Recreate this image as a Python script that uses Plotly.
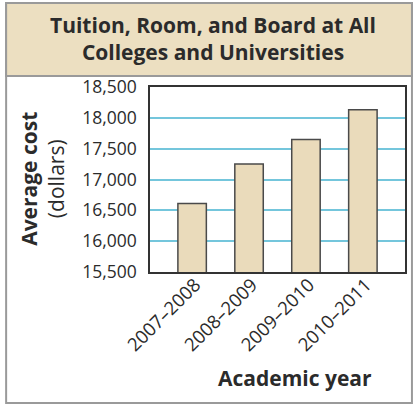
import plotly.graph_objects as go

years = ["2007–2008", "2008–2009", "2009–2010", "2010–2011"]
avg_cost = [16610, 17250, 17650, 18130]
y_ticks = [15500, 16000, 16500, 17000, 17500, 18000, 18500]
y_tick_labels = ["15,500", "16,000", "16,500", "17,000", "17,500", "18,000", "18,500"]

W, H = 419, 406
L, R, T, B = 150, 12, 87, 134
pw, ph = W - L - R, H - T - B

def px(x):
    return (x - L) / pw

def py(y):
    return (H - B - y) / ph

FONT = "Open Sans"
TXT = "#2b2b2b"

fig = go.Figure()
fig.add_trace(go.Bar(
    x=list(range(len(years))), y=avg_cost,
    width=0.5,
    marker=dict(color="#eadbbb", line=dict(color="#4a4a4a", width=1.5)),
    hoverinfo="skip",
))

fig.update_layout(
    width=W, height=H,
    margin=dict(l=L, r=R, t=T, b=B),
    paper_bgcolor="white", plot_bgcolor="white",
    showlegend=False,
    font=dict(family=FONT, color=TXT),
    xaxis=dict(
        range=[-0.74, 3.74],
        tickmode="array", tickvals=list(range(len(years))), ticktext=years,
        tickangle=-45, tickfont=dict(size=18.5, color=TXT),
        showgrid=False, zeroline=False,
        showline=True, linecolor="#333333", linewidth=1.5, mirror=True,
        ticks="", ticklabelshift=3, ticklabelstandoff=-7,
    ),
    yaxis=dict(
        range=[15500, 18500],
        tickmode="array", tickvals=y_ticks, ticktext=y_tick_labels,
        tickfont=dict(size=17.5, color=TXT),
        showgrid=True, gridcolor="#74c6dc", gridwidth=2,
        zeroline=False,
        showline=True, linecolor="#333333", linewidth=1.5, mirror=True,
        ticks="", ticklabelstandoff=8,
    ),
    shapes=[
        dict(type="rect", xref="paper", yref="paper",
             x0=px(5), x1=px(414), y0=py(403), y1=py(3),
             line=dict(color="#9a9a9a", width=2), fillcolor="rgba(0,0,0,0)", layer="below"),
        dict(type="rect", xref="paper", yref="paper",
             x0=px(5), x1=px(414), y0=py(76), y1=py(3),
             line=dict(color="#9a9a9a", width=2), fillcolor="#ecdfc1", layer="below"),
    ],
    annotations=[
        dict(text="<b>Tuition, Room, and Board at All<br>Colleges and Universities</b>",
             xref="paper", yref="paper", x=px(213), y=py(38),
             xanchor="center", yanchor="middle", showarrow=False,
             font=dict(size=21, color=TXT, family=FONT)),
        dict(text="<b>Average cost</b><br>(dollars)",
             xref="paper", yref="paper", x=px(41), y=py(179),
             xanchor="center", yanchor="middle", showarrow=False, textangle=-90,
             font=dict(size=21, color=TXT, family=FONT)),
        dict(text="<b>Academic year</b>",
             xref="paper", yref="paper", x=px(296), y=py(378),
             xanchor="center", yanchor="middle", showarrow=False,
             font=dict(size=21, color=TXT, family=FONT)),
    ],
)

fig.write_html("out.html", config={"displayModeBar": False},
               post_script="document.body.style.margin='0';document.body.style.overflow='hidden';")
